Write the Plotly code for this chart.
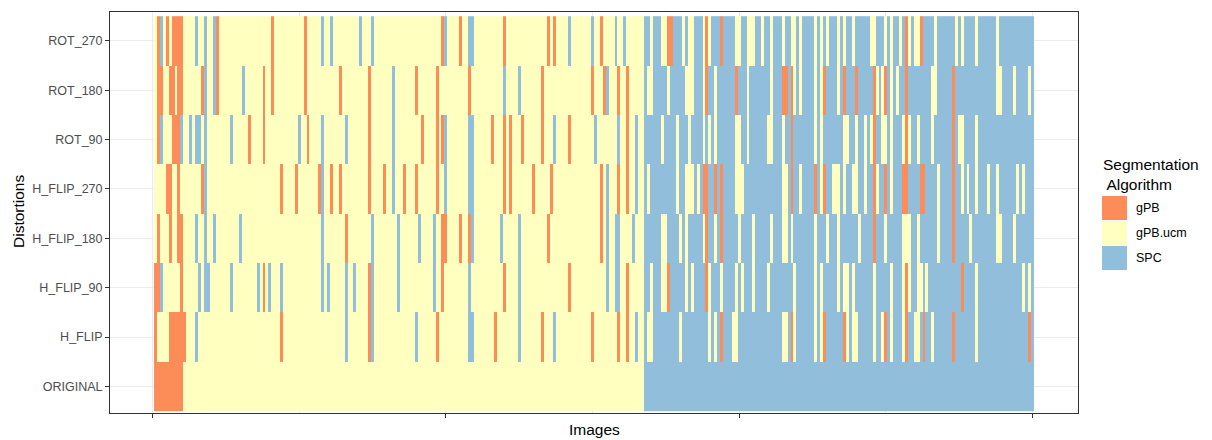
import plotly.graph_objects as go

# Segmentation algorithm chosen for each image under each distortion.
# o = gPB, y = gPB.ucm, b = SPC ; one character per image (300 images)
ALGORITHMS = ["gPB", "gPB.ucm", "SPC"]
CODE = {"o": 0, "y": 1, "b": 2}
COLORS = ["#FC8D59", "#FFFFBF", "#91BFDB"]

DISTORTIONS = ["ORIGINAL", "H_FLIP", "H_FLIP_90", "H_FLIP_180",
               "H_FLIP_270", "ROT_90", "ROT_180", "ROT_270"]

ROT_270 = ("yobyoyoooo yyyybyybyy boyyyyyyyy yyyyyyyyyy oyyyyyyyyy yoyyyyybyy "
           "byyyyyyyyy byyybyyyyy yyyyyyyyyy yyyyyyyyob yyyyoyybby yyyyyyyyyo "
           "yyyyyyyyyy yyyyoyoyyy ybyyyyyyyb yyoyyyybyy byyyyyybby bbbyyoobbb "
           "ybyybbbyoy bbbobbbbyy bbyyybbybb ybbbybbyyb ybbbbybyby bbbybybbyb "
           "bbbbyybbby bybbyboyby yobbbbybbb bbbybybbbb ybbbbbbybb bbbbbbbbbb")
ROT_180 = ("yooyyooyoo yyyyyyobyy boyyyyyyyy byyyyyyoyy oyyyyyyyyy yoyyyyyyyy "
           "yyyoyyyyyy yyyoyyyyyy ybyyyyyyyo yyyyyyoyyy yyyyyyyoyy yyyyyyyyyb "
           "yyyybyyyyy yyoyyyyyyy yyyyyyyyyo yyyobyyyoy yoyyyyybyy bbbbbybbbb "
           "byyybbbyob bybbbbbbob bbybbbbbbb ybbbooboyb ybbbbybyob bbbybobbbo "
           "bbbbboybyo bybybbobbb bbbbbyybbb bbobbbbbbb bbbbbbbyyb bbbybbbbyb")
ROT_90 = ("yobyyyooob yybybbybyy yyyyyybyyy yyoyyyyoyy yyyyyyyyyb yyoyyyybyy "
          "yyyyybyyyy yyyoyyyyyy ybyyyyyyyy yoyyyyoyob yyyyyyybby yyyyyoyyyo "
          "yoyyyoyyyy yyoyyybyyy yoyyyyyyyy byyyyyyyby yoyybyybbb bbbybbbbyb "
          "bbybbbbyby bybbbbbbyy bbybbbbbby ybbbybbobb bbbbbybybb bbbbbyybby "
          "bbybyobbyy bybbbyoybb ybbbbybbbb bbobyybbbb ybbbbbbbbb bbbbbbbbbb")
H_FLIP_270 = ("yyyyooyyoy yyyyyyobyy yyyyyyyyyy yyyyyyyyyy yyyoyyyyoy yyyyyyobyy "
              "oyyoyyyyyy yyyoyyyyoy ybyyyoyyyo yyyyyyoyyb yyyyyyybby yyyyyyyyyo "
              "yoyyyyyyyo yyyyyoyyyy yyyyyyyyyy yyoybyyyoy yoyybyybyb bbbbbbbbyb "
              "byyybyboob bobobbbbyy ybbbbbbbbb bbbbyybobb ybbbbobyob byyybybbyy "
              "bbybboybbo bybbboobbb boobbbbybb bbobbybybb ybbbybbybb bbbbybybbb")
H_FLIP_180 = ("yoyyyoyyoo yyyybyybyy byyyyyyyyb yyyyyyyyyy yyyyyyyyyy yyyyyyybyy "
              "yyyyyoyyyy yyyybyyyyy yyybyyyyyy byyyybyyoo yyyyoyyoby yyyyyyyyby "
              "yyyybyyyyy yyyyoyyyyy yyyyyyyyyy yyoybyybby yyybyyybbb bbbyybbbby "
              "bybbbbbyob bybobbbbby bbbbybbbbb ybbbyybybb bbbbbybbby bbbybbbbbb "
              "ybbbbobbby bbbbbyyybb ybbbbbbybb bbobbbbbyb bbbbbbbyyb bbbybbbbbb")
H_FLIP_90 = ("oobyyyyyyo yyyyybybby yyyyyybyyy yyyyybyoyb yyybyyyyyy yyyyyyybyb "
             "yyyyybyyby yyyobyyyyy yyybyyyyyy yyyyybyyoy yyyyyyybyy yyyyyyyyyo "
             "yyyybyyyyy yyyyyyyyyy yoyyyyyyyy yyyybyybby yoyyyyybby bbbyyobbbb "
             "bybybbbboy bbbybbbbyb ybbbybbbby bbbbbbbbyb bbbbbybybb bbbybyybyb "
             "bbbbbybbbb bybbbyoybb yybybbbbbb bbbbbobbbb ybbbbbbbbb bbbbbbybyb")
H_FLIP = ("oyyyyooooo oyyybyyyyy yyyyyyyyyy yyyyyyyyyy yyyoyyyyyy yyyyyyyyyy "
          "yyyyybyyyy yyyobyyyyy yyyyyyyyyb yyyyyyoyyy yyyyyyybby yyyyyyoyyy "
          "yyyybyyyyy yyoyyybyyy yyyyyyyyyo yyyyyyyyoy yoyybyybyy bbbbbbbbby "
          "bbbbbbbbby bybobbbyyb bbbbbbbbbb bbbbyyboyb bbbbbybyob bbbbboybyy "
          "bbbbbybbyo bybbbyobby ybobbybbbb bbobbbbbbb ybbbbbbbbb bbbbbbbbob")
ORIGINAL = ("oooooooooo yyyyyyyyyy yyyyyyyyyy yyyyyyyyyy yyyyyyyyyy yyyyyyyyyy "
            "yyyyyyyyyy yyyyyyyyyy yyyyyyyyyy yyyyyyyyyy yyyyyyyyyy yyyyyyyyyy "
            "yyyyyyyyyy yyyyyyyyyy yyyyyyyyyy yyyyyyyyyy yyyyyyybbb bbbbbbbbbb "
            "bbbbbbbbbb bbbbbbbbbb bbbbbbbbbb bbbbbbbbbb bbbbbbbbbb bbbbbbbbbb "
            "bbbbbbbbbb bbbbbbbbbb bbbbbbbbbb bbbbbbbbbb bbbbbbbbbb bbbbbbbbbb")

ROWS = {"ORIGINAL": ORIGINAL, "H_FLIP": H_FLIP, "H_FLIP_90": H_FLIP_90,
        "H_FLIP_180": H_FLIP_180, "H_FLIP_270": H_FLIP_270, "ROT_90": ROT_90,
        "ROT_180": ROT_180, "ROT_270": ROT_270}

z = [[CODE[c] for c in ROWS[d].replace(" ", "")] for d in DISTORTIONS]
images = list(range(1, len(z[0]) + 1))
labels = [[ALGORITHMS[v] for v in row] for row in z]

colorscale = [[0.0, COLORS[0]], [1 / 3, COLORS[0]],
              [1 / 3, COLORS[1]], [2 / 3, COLORS[1]],
              [2 / 3, COLORS[2]], [1.0, COLORS[2]]]

FONT = "Liberation Sans, Arial, Helvetica, sans-serif"

fig = go.Figure(go.Heatmap(
    x=images, y=DISTORTIONS, z=z, text=labels,
    zmin=0, zmax=2, colorscale=colorscale, showscale=False,
    hovertemplate="%{y}<br>image %{x}<br>%{text}<extra></extra>",
))

# panel geometry in pixels
W, H = 1212, 440
L, R, T, B = 110, 1078, 12, 413


def px(x):
    return (x - L) / (R - L)


def py(y):
    return (B - y) / (B - T)


fig.update_layout(
    width=W, height=H,
    margin=dict(l=L, r=W - R, t=T, b=H - B, pad=0),
    paper_bgcolor="white", plot_bgcolor="white",
    font=dict(family=FONT, color="#4D4D4D"),
    showlegend=False,
    xaxis=dict(
        range=[-14.5, 315.5], tickvals=[0, 100, 200, 300],
        showticklabels=False, ticks="outside", ticklen=4,
        tickcolor="#333333", tickwidth=1,
        showgrid=True, gridcolor="#EBEBEB", gridwidth=1,
        minor=dict(tickvals=[50, 150, 250], showgrid=True,
                   gridcolor="#EBEBEB", gridwidth=0.5, ticks=""),
        zeroline=False, showline=True, mirror=True,
        linecolor="#333333", linewidth=1,
    ),
    yaxis=dict(
        type="category", categoryorder="array", categoryarray=DISTORTIONS,
        range=[-0.54, 7.585], ticks="outside", ticklen=4,
        tickcolor="#333333", tickwidth=1,
        tickfont=dict(size=12.5, color="#4D4D4D", family=FONT),
        showgrid=True, gridcolor="#EBEBEB", gridwidth=1,
        zeroline=False, showline=True, mirror=True,
        linecolor="#333333", linewidth=1,
    ),
)

annotations = [
    dict(text="Images", x=px(594), y=py(429), xref="paper", yref="paper",
         showarrow=False, font=dict(size=15.5, color="black", family=FONT),
         xanchor="center", yanchor="middle"),
    dict(text="Distortions", x=px(18), y=py(212), xref="paper", yref="paper",
         showarrow=False, textangle=-90,
         font=dict(size=15.5, color="black", family=FONT),
         xanchor="center", yanchor="middle"),
    dict(text="Segmentation<br> Algorithm", x=px(1101), y=py(174),
         xref="paper", yref="paper", showarrow=False, align="left",
         font=dict(size=15.5, color="black", family=FONT),
         xanchor="left", yanchor="middle"),
]

shapes = []
key_top = [196, 221, 246]
for name, color, top in zip(ALGORITHMS, COLORS, key_top):
    shapes.append(dict(type="rect", xref="paper", yref="paper",
                       x0=px(1102), x1=px(1127), y0=py(top + 24), y1=py(top),
                       fillcolor=color, line=dict(width=0)))
    annotations.append(dict(text=name, x=px(1134), y=py(top + 12),
                            xref="paper", yref="paper", showarrow=False,
                            font=dict(size=12.5, color="black", family=FONT),
                            xanchor="left", yanchor="middle"))

fig.update_layout(annotations=annotations, shapes=shapes)

fig.write_html("out.html")
